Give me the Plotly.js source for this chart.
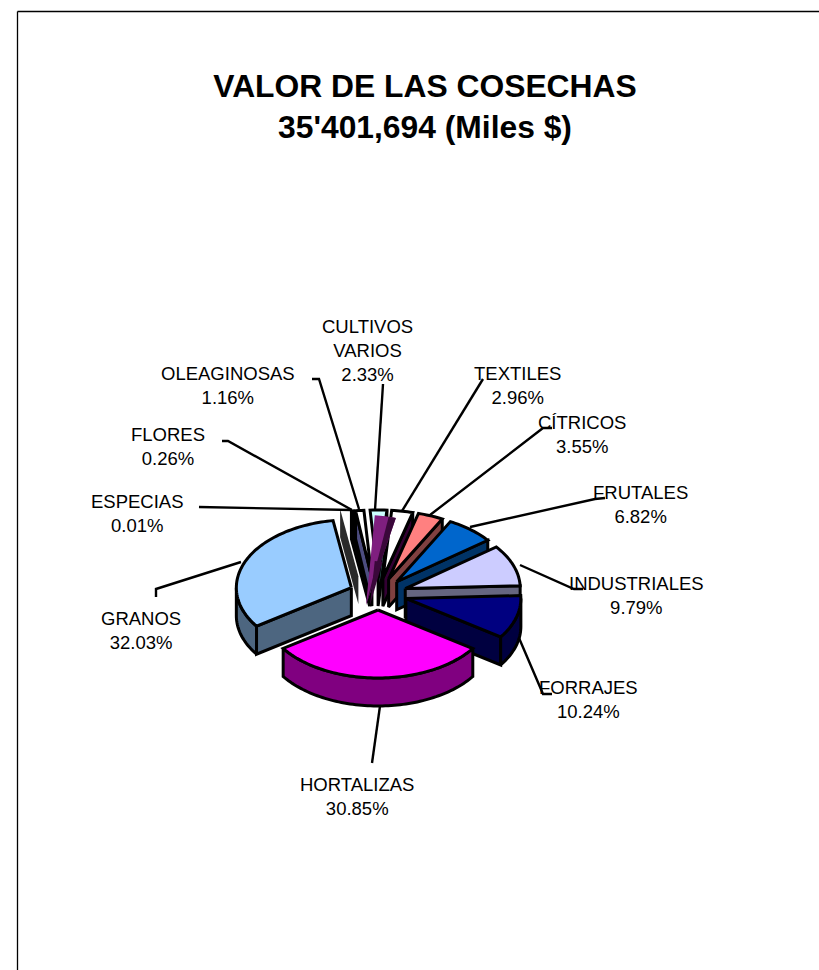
<!DOCTYPE html>
<html><head><meta charset="utf-8">
<script src="https://cdn.plot.ly/plotly-3.0.1.min.js"></script>
<style>html,body{margin:0;padding:0;background:#fff}</style></head>
<body><div id="chart" style="width:819px;height:970px"></div>
<script>
// ---- data ----
const categories = ['CULTIVOS VARIOS','TEXTILES','CÍTRICOS','FRUTALES','INDUSTRIALES','FORRAJES','HORTALIZAS','GRANOS','ESPECIAS','FLORES','OLEAGINOSAS'];
const percents   = [2.33,2.96,3.55,6.82,9.79,10.24,30.85,32.03,0.01,0.26,1.16];
const labelNames = ['CULTIVOS<br>VARIOS','TEXTILES','CÍTRICOS','FRUTALES','INDUSTRIALES','FORRAJES','HORTALIZAS','GRANOS','ESPECIAS','FLORES','OLEAGINOSAS'];
const topColors  = ['#CCFFFF','#FFFFFF','#FF8080','#0066CC','#CCCCFF','#000080','#FF00FF','#99CCFF','#222222','#000000','#FFFFFF'];
const wallColors = ['#336666','#330033','#804040','#003366','#666680','#000040','#800080','#4D6680','#2A2A2A','#000000','#4D4D80'];

// ---- geometry of the tilted pie, in page pixels ----
const CX=378, CY=594, A=115, B=68, DEPTH=28, EX=29, EY=16, ROT=-4;
const drawOrder=[8,9,10,0,1,2,3,4,5,7,6];
const nudge={8:[-15,-2],9:[-4,0],10:[-3,0]};
const bareWalls={8:true};
const labelPos=[[367,350],[517,385],[582,434],[640,504],[636,595],[588,699.5],[356.5,796.5],[141,630],[137,513],[167.5,446.5],[228,385]];
const leaders=[
 [[383,384],[375,510]],[[483,379],[402,511]],[[552,428],[543,428],[430,515]],[[605,498],[595,499],[470,527]],
 [[583,589],[574,589],[520,565]],[[552,694],[543,694],[519,638]],[[372,763],[380,706]],[[156,597],[156,589],[241,562]],
 [[199,507],[352,510]],[[222,441],[228,441],[352,510]],[[312,379],[319,379],[359,509]]];

const rad=d=>d*Math.PI/180;
let acc=ROT; const spans=percents.map(p=>{const s=[acc,acc+p*3.6];acc+=p*3.6;return s;});
function apex(i){const [t0,t1]=spans[i],m=rad((t0+t1)/2),n=nudge[i]||[0,0];
  return [CX+EX*Math.sin(m)+n[0],CY-EY*Math.cos(m)+n[1]];}
function arc(c,t0,t1,a,b,dy){const pts=[],n=Math.max(2,Math.ceil((t1-t0)/1.5));
  for(let k=0;k<=n;k++){const t=rad(t0+(t1-t0)*k/n);pts.push([c[0]+a*Math.sin(t),c[1]-b*Math.cos(t)+(dy||0)]);}
  return pts;}
const traces=[];
function poly(pts,fill,lw){const p=pts.concat([pts[0]]);
  traces.push({type:'scatter',mode:'lines',x:p.map(q=>q[0]),y:p.map(q=>q[1]),fill:'toself',fillcolor:fill,
    line:{color:'#000',width:lw===undefined?3:lw,simplify:false},hoverinfo:'skip',showlegend:false,name:''});}
function sector(c,t0,t1,a,b,fill,lw){poly([c].concat(arc(c,t0,t1,a,b)),fill,lw);}

function drawSlice(i){
  const [t0,t1]=spans[i],c=apex(i),mid=(((t0+t1)/2)%360+360)%360;
  const lw=bareWalls[i]?0:undefined;
  const e=mid<180?t1:t0, rim=arc(c,e,e,A,B)[0];
  if(!(mid>124&&mid<236)) poly([c,rim,[rim[0],rim[1]+DEPTH],[c[0],c[1]+DEPTH]],wallColors[i],lw);
  const lo=Math.max(t0,90),hi=Math.min(t1,270);
  if(hi>lo) poly(arc(c,lo,hi,A,B).concat(arc(c,lo,hi,A,B,DEPTH).reverse()),wallColors[i]);
  if(!bareWalls[i]) sector(c,t0,t1,A,B,topColors[i]);
}
drawOrder.slice(0,5).forEach(drawSlice);
// dithered side of the TEXTILES slice as it shows through the back of the pie
const tx=spans[1], sideC=[366,605];
sector(sideC,tx[0],tx[1],A,90,'#7F1F7F',0);
sector(sideC,tx[0]+7,tx[1],A,90,'#3A083A',0);
sector([sideC[0]+4,sideC[1]],tx[0]-1,tx[1]-6,A*0.7,44,'#3A083A',0);
drawOrder.slice(5).forEach(drawSlice);

leaders.forEach(l=>traces.push({type:'scatter',mode:'lines',x:l.map(q=>q[0]),y:l.map(q=>q[1]),
  line:{color:'#000',width:2.4,simplify:false},hoverinfo:'skip',showlegend:false,name:''}));

const annotations=categories.map((c,i)=>({xref:'x',yref:'y',x:labelPos[i][0],y:labelPos[i][1],
  text:labelNames[i]+'<br>'+percents[i].toFixed(2)+'%',showarrow:false,xanchor:'center',yanchor:'middle',
  font:{family:'"Liberation Sans",Arial,sans-serif',size:18.5,color:'#000'}}));

const frame=[[17.5,11.5,819,11.5],[17.5,11.5,17.5,970]].map(f=>({type:'line',xref:'x',yref:'y',x0:f[0],y0:f[1],x1:f[2],y1:f[3],line:{color:'#000',width:1.3}}));

Plotly.newPlot('chart',traces,{
  width:819,height:970,margin:{l:0,r:0,t:0,b:0},paper_bgcolor:'#fff',plot_bgcolor:'#fff',showlegend:false,
  title:{text:"<b>VALOR DE LAS COSECHAS<br>35'401,694 (Miles $)</b>",x:425/819,xanchor:'center',y:1-97/970,yanchor:'top',
    font:{family:'"Liberation Sans",Arial,sans-serif',size:31.8,color:'#000'}},
  xaxis:{range:[0,819],visible:false,fixedrange:true},
  yaxis:{range:[970,0],visible:false,fixedrange:true},
  shapes:frame,annotations
},{displayModeBar:false,staticPlot:true});
</script></body></html>
